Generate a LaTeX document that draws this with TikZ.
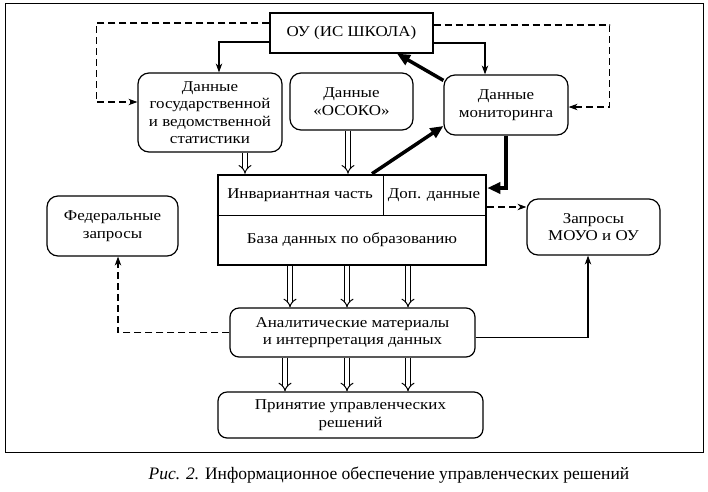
\documentclass[tikz,border=0pt]{standalone}
\usepackage{fontspec}
\setmainfont{Liberation Serif}
\newfontfamily\wideserif{Liberation Serif}[FakeStretch=1.13]
\usetikzlibrary{arrows.meta}
\newcommand{\bodyfs}{\wideserif\fontsize{15}{17.5}\selectfont}
\begin{document}
\begin{tikzpicture}[x=1pt,y=-1pt,
  box/.style={draw, line width=1.2pt, align=center, font=\bodyfs, inner sep=0pt},
  rbox/.style={box, rounded corners=11pt},
  lbl/.style={align=center, font=\bodyfs, inner sep=0pt},
  thinarr/.style={line width=1.1pt, -{Stealth[length=9pt,width=6.5pt]}},
  dasharr/.style={thinarr, dash pattern=on 7pt off 4pt},
  thickarr/.style={line width=3.5pt, -{Triangle[length=13pt,width=11pt]}},
  dbl/.style={double, double distance=3.5pt, line width=1pt, -{Implies}}
]
\useasboundingbox (0,0) rectangle (708,491);
\draw[line width=1pt] (5,3) rectangle (703,452);

\node[box, minimum width=163pt, minimum height=40pt] (ou) at (351.5,33) {ОУ (ИС ШКОЛА)};
\node[rbox, minimum width=144pt, minimum height=79pt] (gos) at (210,112.5)
  {Данные\\государственной\\и ведомственной\\статистики};
\node[rbox, minimum width=123pt, minimum height=57pt] (osoko) at (351.5,101.5) {Данные\\«ОСОКО»};
\node[rbox, minimum width=124pt, minimum height=60pt] (mon) at (506,105) {Данные\\мониторинга};

\node[draw, line width=2.6pt, minimum width=268pt, minimum height=90pt, inner sep=0pt] (db) at (352,220) {};
\draw[line width=1pt] (db.west |- 0,215) -- (db.east |- 0,215);
\draw[line width=1pt] (383,215) -- (383,175);
\node[lbl] (inv) at (300,195) {Инвариантная часть};
\node[lbl] (dop) at (434,195) {Доп. данные};
\node[lbl] (baza) at (352,240) {База данных по образованию};

\node[rbox, minimum width=131pt, minimum height=60pt] (fed) at (112.5,226) {Федеральные\\запросы};
\node[rbox, minimum width=133pt, minimum height=56pt] (zap) at (593.5,227) {Запросы\\МОУО и ОУ};
\node[rbox, rounded corners=9pt, minimum width=245pt, minimum height=49pt] (anal) at (352.5,332.5)
  {Аналитические материалы\\и интерпретация данных};
\node[rbox, rounded corners=9pt, minimum width=265pt, minimum height=46pt] (prin) at (350.5,415)
  {Принятие управленческих\\решений};

% thin arrows from OU
\draw[thinarr] ([yshift=-9pt]ou.west) -| ([xshift=9pt]gos.north);
\draw[thinarr] ([yshift=-10pt]ou.east) -| ([xshift=-21pt]mon.north);
\coordinate (cl) at ([xshift=-41pt,yshift=10.5pt]gos.west);
\coordinate (cr) at ([xshift=41pt,yshift=-2pt]mon.east);
\draw[dasharr] ([yshift=10pt]ou.west) -| (cl) -- ([yshift=10.5pt]gos.west);
\draw[dasharr] ([yshift=8pt]ou.east) -| (cr) -- ([yshift=-2pt]mon.east);

% thick arrows
\draw[thickarr] ([yshift=-6pt]mon.north west) -- ([xshift=45.5pt]ou.south);
\draw[thickarr] ([xshift=20pt]db.north) -- ([yshift=-21pt]mon.west);
\draw[thickarr] (mon.south) |- ([yshift=32pt]db.east);

% dashed to zap
\draw[dasharr] ([yshift=13pt]db.east) -- ([yshift=13pt]db.east -| zap.west);

% double arrows
\draw[dbl] ([xshift=35pt]gos.south) -- ([xshift=35pt]gos.south |- db.north);
\draw[dbl] ([xshift=-3.5pt]osoko.south) -- ([xshift=-3.5pt]osoko.south |- db.north);
\foreach \dx in {-62,-5,56}
  \draw[dbl] ([xshift=\dx pt]db.south) -- ([xshift=\dx pt]db.south |- anal.north);
\foreach \dx in {-67.5,-5.5,55.5}
  \draw[dbl] ([xshift=\dx pt]anal.south) -- ([xshift=\dx pt]anal.south |- prin.north);

% from analytics
\draw[dasharr] (anal.west) -| ([xshift=5.5pt]fed.south);
\draw[thinarr] ([yshift=-5pt]anal.east) -| ([xshift=-5.5pt]zap.south);

\node[font=\fontsize{17.5}{20}\selectfont, inner sep=0pt] (cap) at (389,475)
  {\textit{Рис. 2.} Информационное обеспечение управленческих решений};
\end{tikzpicture}
\end{document}
